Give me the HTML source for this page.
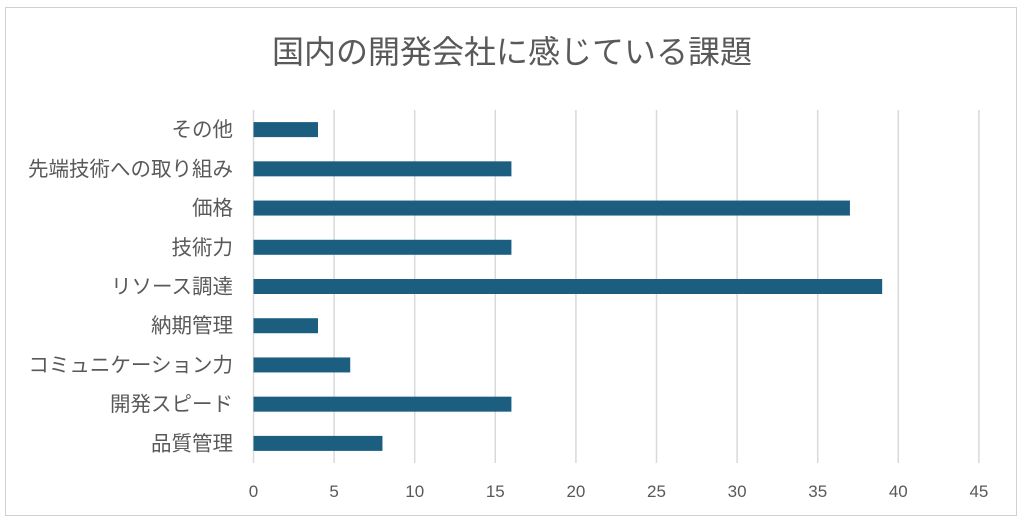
<!DOCTYPE html>
<html><head><meta charset="utf-8"><style>
html,body{margin:0;padding:0;background:#fff;}
svg{display:block;font-family:"Liberation Sans","Noto Sans CJK JP",sans-serif;}
</style></head><body>
<svg width="1024" height="522">
<rect x="5.5" y="7.5" width="1011" height="508" fill="#fff" stroke="#d0d0d0"/>
<text x="512" y="63" text-anchor="middle" font-size="32" fill="#595959">国内の開発会社に感じている課題</text>
<g id="grid"></g><g id="bars"></g><g id="ylabels"></g><g id="xlabels"></g>
</svg>
<script>
const categories=["その他","先端技術への取り組み","価格","技術力","リソース調達","納期管理","コミュニケーション力","開発スピード","品質管理"];
const values=[4,16,37,16,39,4,6,16,8];
const ticks=[0,5,10,15,20,25,30,35,40,45];
const svgNS="http://www.w3.org/2000/svg";
const x0=253.5,pxPer=16.12,plotTop=110,plotBottom=463;
const band=(plotBottom-plotTop)/categories.length;
const xs=v=>x0+v*pxPer;
const yc=i=>plotTop+band*(i+0.5);
function mk(t,a,p){const e=document.createElementNS(svgNS,t);for(const k in a)e.setAttribute(k,a[k]);p.appendChild(e);return e;}
const g=document.getElementById('grid'),b=document.getElementById('bars'),yl=document.getElementById('ylabels'),xl=document.getElementById('xlabels');
ticks.forEach(t=>{
 const l=mk('line',{x1:xs(t),x2:xs(t),y1:plotTop,y2:plotBottom,stroke:'#d9d9d9','stroke-width':1.5},g);
 
 
 const tx=mk('text',{x:xs(t),y:497,'text-anchor':'middle','font-size':17,fill:'#595959'},xl);
 tx.textContent=t;
 
 
});
categories.forEach((c,i)=>{
 const r=mk('rect',{x:xs(0),y:yc(i)-7.5,width:xs(values[i])-xs(0),height:15,fill:'#1b5e80'},b);
 
 
 const tx=mk('text',{x:233,y:yc(i)+7,'text-anchor':'end','font-size':20.5,fill:'#595959'},yl);
 tx.textContent=c;
 
 
});
</script>
</body></html>
